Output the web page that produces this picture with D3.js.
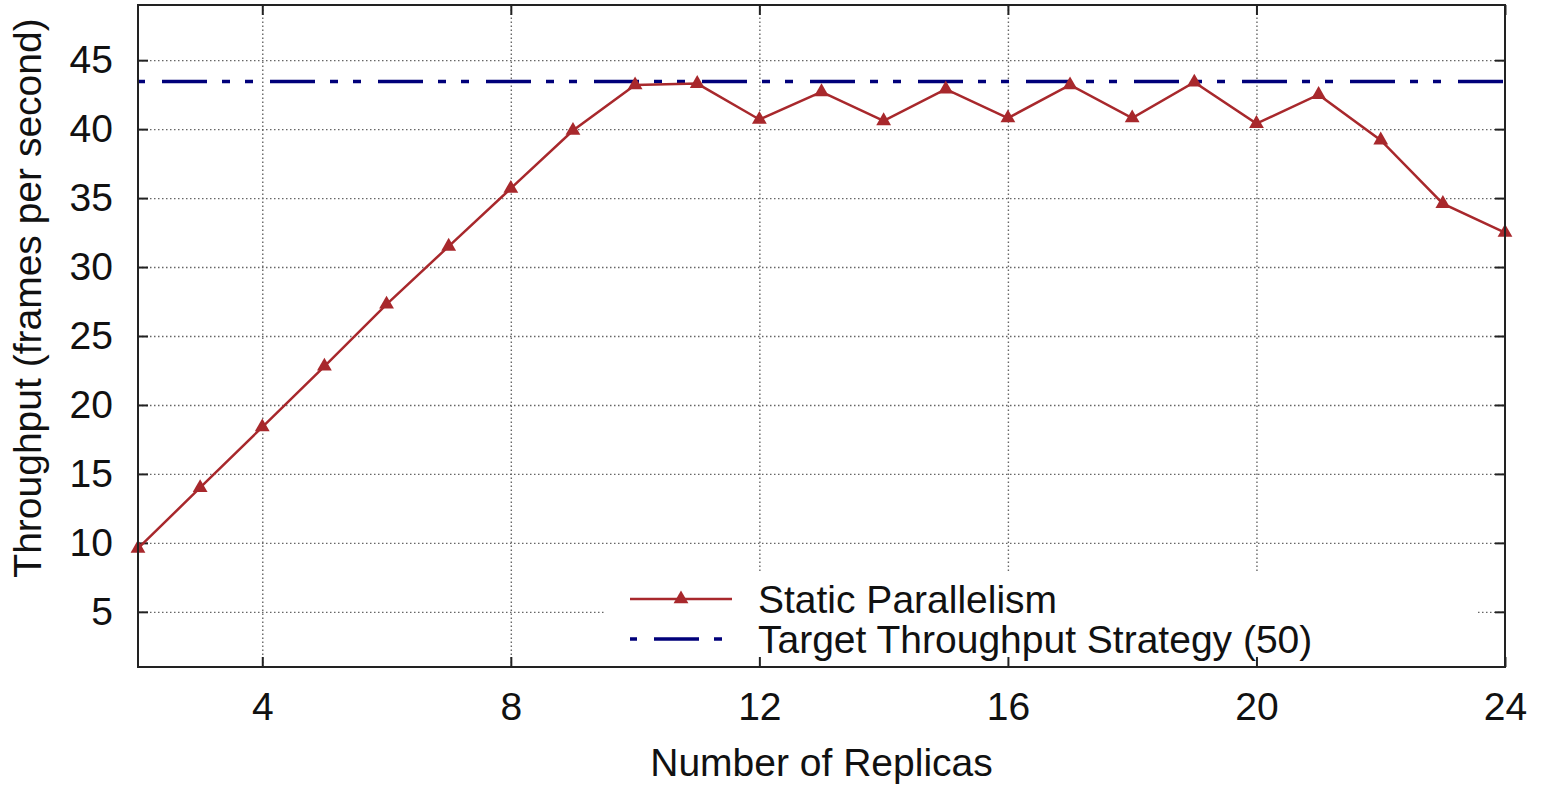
<!DOCTYPE html>
<html>
<head>
<meta charset="utf-8">
<script src="https://cdn.jsdelivr.net/npm/d3@7"></script>
<style>
  body { margin: 0; background: #fff; }
  text { font-family: 'Liberation Sans', Arial, sans-serif; fill: #111; }
</style>
</head>
<body>
<svg id="chart"></svg>
<script>
// replicas on x, measured throughput on y
const replicas = [2, 3, 4, 5, 6, 7, 8, 9, 10, 11, 12, 13, 14, 15, 16, 17, 18, 19, 20, 21, 22, 23, 24];
const staticThroughput = [9.6, 14.0, 18.4, 22.8, 27.3, 31.5, 35.7, 39.9, 43.2, 43.3, 40.7, 42.7, 40.6, 42.9, 40.8, 43.2, 40.8, 43.4, 40.4, 42.5, 39.2, 34.6, 32.5];
const targetThroughput = 43.45;
const xTicks = [4, 8, 12, 16, 20, 24];
const yTicks = [5, 10, 15, 20, 25, 30, 35, 40, 45];
const seriesNames = ['Static Parallelism', 'Target Throughput Strategy (50)'];

const W = 1545, H = 786;
const margin = { left: 138, right: 40, top: 5, bottom: 119 };
const width = W - margin.left - margin.right,
  height = H - margin.top - margin.bottom;
const red = '#a8282c', blue = '#00007a';
const dashes = '45,15,8,15,8,17';
const fontSize = 39;

let svg = d3.select('#chart').attr('width', W).attr('height', H);
let g = svg.append('g').attr('transform', 'translate(' + margin.left + ',' + margin.top + ')');

let x = d3.scaleLinear().domain([2, 24]).range([0, width]);
let y = d3.scaleLinear().domain([1, 49]).range([height, 0]);

// grid
g.append('g')
  .attr('transform', 'translate(0,' + height + ')')
  .call(d3.axisBottom(x).tickValues(xTicks.slice(0, -1)).tickSize(-height).tickFormat(''))
  .call(a => a.select('.domain').remove())
  .selectAll('line')
  .attr('stroke', '#666')
  .attr('stroke-width', 1.4)
  .attr('stroke-dasharray', '1.5,2.5');

g.append('g')
  .call(d3.axisLeft(y).tickValues(yTicks).tickSize(-width).tickFormat(''))
  .call(a => a.select('.domain').remove())
  .selectAll('line')
  .attr('stroke', '#666')
  .attr('stroke-width', 1.4)
  .attr('stroke-dasharray', '1.5,2.5');

// legend box covers the grid
let legend = g.append('g');
legend
  .append('rect')
  .attr('x', 606 - margin.left)
  .attr('y', 572 - margin.top)
  .attr('width', 1478 - 606)
  .attr('height', height - (572 - margin.top))
  .attr('fill', '#fff');

// inward ticks on all four sides
function styleTicks(a) {
  a.select('.domain').remove();
  a.selectAll('line').attr('stroke', '#222').attr('stroke-width', 2);
  a.selectAll('text')
    .attr('font-size', fontSize)
    .attr('font-family', "'Liberation Sans', Arial, sans-serif")
    .attr('fill', '#111');
}
g.append('g')
  .attr('transform', 'translate(0,' + height + ')')
  .call(d3.axisBottom(x).tickValues(xTicks).tickSize(-10).tickPadding(25))
  .call(styleTicks);
g.append('g')
  .call(d3.axisTop(x).tickValues(xTicks).tickSize(-10).tickFormat(''))
  .call(styleTicks);
g.append('g')
  .call(d3.axisLeft(y).tickValues(yTicks).tickSize(-10).tickPadding(25))
  .call(styleTicks);
g.append('g')
  .attr('transform', 'translate(' + width + ',0)')
  .call(d3.axisRight(y).tickValues(yTicks).tickSize(-10).tickFormat(''))
  .call(styleTicks);

// target line
g.append('line')
  .attr('x1', x(2))
  .attr('x2', x(24))
  .attr('y1', y(targetThroughput))
  .attr('y2', y(targetThroughput))
  .attr('stroke', blue)
  .attr('stroke-width', 3.5)
  .attr('stroke-dasharray', dashes)
  .attr('stroke-dashoffset', 84);

// static parallelism series
let pts = replicas.map((r, i) => ({ r: r, v: staticThroughput[i] }));
let line = d3.line().x(d => x(d.r)).y(d => y(d.v));
g.append('path')
  .datum(pts)
  .attr('d', line)
  .attr('fill', 'none')
  .attr('stroke', red)
  .attr('stroke-width', 2.5);

let tri = d3.symbol().type(d3.symbolTriangle).size(95);
g.selectAll('.marker')
  .data(pts)
  .enter()
  .append('path')
  .classed('marker', true)
  .attr('transform', d => 'translate(' + x(d.r) + ',' + y(d.v) + ')')
  .attr('d', tri)
  .attr('fill', red);

// frame
g.append('rect')
  .attr('width', width)
  .attr('height', height)
  .attr('fill', 'none')
  .attr('stroke', '#222')
  .attr('stroke-width', 2);

// legend entries
let lx0 = 630 - margin.left, lx1 = 732 - margin.left, tx = 758 - margin.left;
let row = [599 - margin.top, 639 - margin.top];
legend
  .append('line')
  .attr('x1', lx0).attr('x2', lx1)
  .attr('y1', row[0]).attr('y2', row[0])
  .attr('stroke', red)
  .attr('stroke-width', 2.5);
legend
  .append('path')
  .attr('transform', 'translate(' + (lx0 + lx1) / 2 + ',' + row[0] + ')')
  .attr('d', tri)
  .attr('fill', red);
legend
  .append('line')
  .attr('x1', lx0).attr('x2', lx1)
  .attr('y1', row[1]).attr('y2', row[1])
  .attr('stroke', blue)
  .attr('stroke-width', 3.5)
  .attr('stroke-dasharray', dashes)
  .attr('stroke-dashoffset', 84);
legend
  .selectAll('.ltext')
  .data(seriesNames)
  .enter()
  .append('text')
  .classed('ltext', true)
  .attr('x', tx)
  .attr('y', (d, i) => row[i])
  .attr('dy', '0.35em')
  .attr('font-size', fontSize)
  .text(d => d);

// axis titles
svg
  .append('text')
  .attr('x', margin.left + width / 2)
  .attr('y', 776)
  .attr('text-anchor', 'middle')
  .attr('font-size', fontSize)
  .text('Number of Replicas');

svg
  .append('text')
  .attr('transform', 'translate(41,298) rotate(-90)')
  .attr('text-anchor', 'middle')
  .attr('font-size', fontSize)
  .text('Throughput (frames per second)');
</script>
</body>
</html>
